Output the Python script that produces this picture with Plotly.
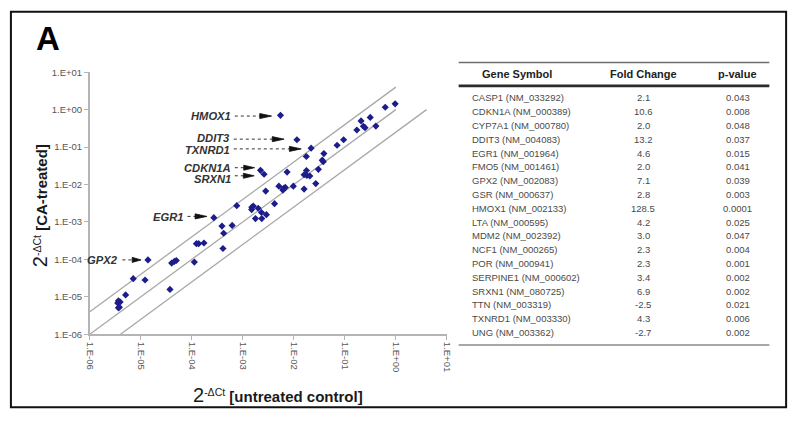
import math
import plotly.graph_objects as go

# ---------------- data ----------------
# labelled genes: 2^-dCt untreated control (x) vs CA-treated (y)
label_genes = ["HMOX1", "DDIT3", "TXNRD1", "CDKN1A", "SRXN1", "EGR1", "GPX2"]
label_control = [0.00547, 0.0115, 0.0218, 0.00222, 0.00261, 0.000270, 0.0000138]
label_treated = [0.703, 0.157, 0.0933, 0.0239, 0.0188, 0.00130, 0.0000966]

# remaining genes
other_control = [0.97, 0.62, 0.315, 0.208, 0.231, 0.249, 0.406, 0.172, 0.0946, 0.0705,
                 0.0388, 0.0361, 0.0378, 0.0176, 0.00738, 0.0177, 0.0159, 0.0180, 0.0206, 0.0303,
                 0.0269, 0.0159, 0.00977, 0.00509, 0.00631, 0.00681, 0.00610, 0.00419, 0.00281, 0.00232,
                 0.00290, 0.00177, 0.00235, 0.00150, 0.00160, 0.00149, 0.00200, 0.00076, 0.000390, 0.000618,
                 0.000421, 0.000408, 0.000123, 0.000136, 0.000173, 0.000112, 0.0000403, 0.0000454, 0.0000497,
                 0.0000373, 0.00000710, 0.0000121, 0.00000504, 0.00000364, 0.00000393, 0.00000352,
                 0.00000364, 0.00000380]
other_treated = [1.43, 1.16, 0.62, 0.50, 0.36, 0.33, 0.364, 0.286, 0.157, 0.112,
                 0.0671, 0.0447, 0.0408, 0.0561, 0.0215, 0.0236, 0.0182, 0.0174, 0.0169, 0.0254,
                 0.0106, 0.00753, 0.00901, 0.00901, 0.00785, 0.00834, 0.00710, 0.00307, 0.00668, 0.00179,
                 0.00156, 0.00123, 0.00123, 0.00246, 0.00267, 0.00214, 0.00232, 0.00272, 0.000773, 0.000807,
                 0.000499, 0.000195, 0.000263, 0.000263, 0.000274, 0.0000843, 0.0000794, 0.0000879, 0.0000933,
                 0.0000157, 0.0000304, 0.0000281, 0.0000112, 0.00000782, 0.00000723, 0.00000681,
                 0.00000505, 0.00000526]

# fold-change boundary lines (y = k * x)
line_factors = [4.0, 1.0, 0.25]
line_x_start = [1e-6, 1e-6, 4e-6]
line_x_end = [1.0, 1.0, 4.0]

tick_values = [1e-6, 1e-5, 1e-4, 1e-3, 1e-2, 1e-1, 1e0, 1e1]
tick_labels = ["1.E-06", "1.E-05", "1.E-04", "1.E-03", "1.E-02", "1.E-01", "1.E+00", "1.E+01"]

# table
table_genes = ["CASP1", "CDKN1A", "CYP7A1", "DDIT3", "EGR1", "FMO5", "GPX2", "GSR", "HMOX1",
               "LTA", "MDM2", "NCF1", "POR", "SERPINE1", "SRXN1", "TTN", "TXNRD1", "UNG"]
table_accessions = ["NM_033292", "NM_000389", "NM_000780", "NM_004083", "NM_001964", "NM_001461",
                    "NM_002083", "NM_000637", "NM_002133", "NM_000595", "NM_002392", "NM_000265",
                    "NM_000941", "NM_000602", "NM_080725", "NM_003319", "NM_003330", "NM_003362"]
table_fold = [2.1, 10.6, 2.0, 13.2, 4.6, 2.0, 7.1, 2.8, 128.5, 4.2, 3.0, 2.3, 2.3, 3.4, 6.9, -2.5, 4.3, -2.7]
table_p = [0.043, 0.008, 0.048, 0.037, 0.015, 0.041, 0.039, 0.003, 0.0001, 0.025, 0.047, 0.004,
           0.001, 0.002, 0.002, 0.021, 0.006, 0.002]
table_headers = ["Gene Symbol", "Fold Change", "p-value"]

# ---------------- layout geometry ----------------
W, H = 800, 421
X0PX, X1PX = 86, 448      # plot area left/right (px)
YBPX, YTPX = 337, 68      # plot area bottom/top (px)
LOGMIN, LOGMAX = -6, 1

def xpx(v):
    return X0PX + (math.log10(v) - LOGMIN) / (LOGMAX - LOGMIN) * (X1PX - X0PX)

def ypx(v):
    return YBPX - (math.log10(v) - LOGMIN) / (LOGMAX - LOGMIN) * (YBPX - YTPX)

def xval(px):
    return 10 ** (LOGMIN + (px - X0PX) / (X1PX - X0PX) * (LOGMAX - LOGMIN))

def yval(py):
    return 10 ** (LOGMIN + (YBPX - py) / (YBPX - YTPX) * (LOGMAX - LOGMIN))

def px2paper(px, py):
    return px / W, 1 - py / H

FONT = "Liberation Sans, Arial, sans-serif"
MARKER = "#1c1c8a"
LINEGRAY = "#a8a8a8"

fig = go.Figure()

# boundary lines
for k, xs, xe in zip(line_factors, line_x_start, line_x_end):
    fig.add_trace(go.Scatter(x=[xs, xe], y=[k * xs, k * xe], mode="lines",
                             line=dict(color=LINEGRAY, width=1.3), hoverinfo="skip", showlegend=False))

# points
fig.add_trace(go.Scatter(x=other_control + label_control, y=other_treated + label_treated,
                         mode="markers", marker=dict(symbol="diamond", size=5.5, color=MARKER),
                         showlegend=False))

# arrow / label styling (px): text right edge, gap to point, head length, arrow dy, text dy
label_style = {
    "HMOX1": (230, 9, 12, 0.7, 0.0),
    "DDIT3": (229, 13, 12, -0.6, -1.0),
    "TXNRD1": (229, 10, 12, 0.7, 0.8),
    "CDKN1A": (230, 6, 11, -2.7, 0.0),
    "SRXN1": (230, 10, 11, 1.6, 3.0),
    "EGR1": (182, 7, 12, -1.3, 0.5),
    "GPX2": (116, 7, 9, 0.0, 0.0),
}

shaft_x, shaft_y, head_x, head_y = [], [], [], []
annotations = []
for g, cx, ty in zip(label_genes, label_control, label_treated):
    tr, gap, hl, dya, dyt = label_style[g]
    px, py = xpx(cx), ypx(ty)
    ay = py + dya
    tip = px - gap
    base = tip - hl
    start = tr + 3
    shaft_x += [xval(start), xval(base), None]
    shaft_y += [yval(ay), yval(ay), None]
    head_x += [xval(tip), xval(base), xval(base), xval(tip), None]
    head_y += [yval(ay), yval(ay - 2.6), yval(ay + 2.6), yval(ay), None]
    xp, yp = px2paper(tr, ay + dyt)
    annotations.append(dict(x=xp, y=yp, xref="paper", yref="paper", xanchor="right", yanchor="middle",
                            text=f"<b><i>{g}</i></b>", showarrow=False, borderpad=0,
                            font=dict(family=FONT, size=11.2, color="#333333")))

fig.add_trace(go.Scatter(x=shaft_x, y=shaft_y, mode="lines",
                         line=dict(color="#333333", width=1, dash="dot"),
                         hoverinfo="skip", showlegend=False))
fig.add_trace(go.Scatter(x=head_x, y=head_y, mode="lines", fill="toself", fillcolor="#111111",
                         line=dict(color="#111111", width=0.8), hoverinfo="skip", showlegend=False))

# panel letter
xp, yp = px2paper(44, 33)
annotations.append(dict(x=xp, y=yp, xref="paper", yref="paper", xanchor="center", yanchor="middle",
                        text="<b>A</b>", showarrow=False, font=dict(family=FONT, size=33, color="black")))

# axis titles
xp, yp = px2paper(277, 399)
annotations.append(dict(x=xp, y=yp, xref="paper", yref="paper", xanchor="center", yanchor="middle",
                        text="<span style='font-size:20px'>2</span><sup>-ΔCt</sup> <b>[untreated control]</b>",
                        showarrow=False, font=dict(family=FONT, size=15, color="#1a1a1a")))
xp, yp = px2paper(35, 205)
annotations.append(dict(x=xp, y=yp, xref="paper", yref="paper", xanchor="center", yanchor="middle",
                        textangle=-90,
                        text="<span style='font-size:20px'>2</span><sup>-ΔCt</sup> <b>[CA-treated]</b>",
                        showarrow=False, font=dict(family=FONT, size=15, color="#1a1a1a")))

# ---------------- table ----------------
shapes = []
TL, TR = 460, 775
def hline(py, color, width):
    x0, y0 = px2paper(TL, py)
    x1, _ = px2paper(TR, py)
    shapes.append(dict(type="line", xref="paper", yref="paper", x0=x0, x1=x1, y0=y0, y1=y0,
                       line=dict(color=color, width=width)))

hline(58, "#6e6e6e", 1.5)
hline(82, "#2a2a2a", 2.6)
hline(348, "#8a8a8a", 1.5)

header_x = [519, 647, 743]
for hx, htxt in zip(header_x, table_headers):
    xp, yp = px2paper(hx, 70)
    annotations.append(dict(x=xp, y=yp, xref="paper", yref="paper", xanchor="center", yanchor="middle",
                            text=f"<b>{htxt}</b>", showarrow=False,
                            font=dict(family=FONT, size=11, color="#222222")))

ROW0, ROWSTEP = 94.3, 14.18
for i, (g, acc, fc, p) in enumerate(zip(table_genes, table_accessions, table_fold, table_p)):
    ry = ROW0 + i * ROWSTEP
    xp, yp = px2paper(471, ry)
    annotations.append(dict(x=xp, y=yp, xref="paper", yref="paper", xanchor="left", yanchor="middle",
                            text=f"{g} ({acc})", showarrow=False,
                            font=dict(family=FONT, size=9.5, color="#4a4a4a")))
    xp, yp = px2paper(647, ry)
    annotations.append(dict(x=xp, y=yp, xref="paper", yref="paper", xanchor="center", yanchor="middle",
                            text=f"{fc:.1f}", showarrow=False,
                            font=dict(family=FONT, size=9.5, color="#4a4a4a")))
    xp, yp = px2paper(743, ry)
    annotations.append(dict(x=xp, y=yp, xref="paper", yref="paper", xanchor="center", yanchor="middle",
                            text=str(p), showarrow=False,
                            font=dict(family=FONT, size=9.5, color="#4a4a4a")))

# outer frame
fx0, fy0 = px2paper(6, 6)
fx1, fy1 = px2paper(792, 412)
shapes.append(dict(type="rect", xref="paper", yref="paper", x0=fx0, x1=fx1, y0=fy1, y1=fy0,
                   line=dict(color="#111111", width=2)))

axis_common = dict(type="log", range=[LOGMIN, LOGMAX], showgrid=False, zeroline=False,
                   showline=True, linecolor="#b4b4b4", linewidth=1.5,
                   ticks="outside", ticklen=4, tickcolor="#b4b4b4", tickwidth=1,
                   tickvals=tick_values, ticktext=tick_labels,
                   tickfont=dict(family=FONT, size=9.5, color="#555555"))

fig.update_layout(
    width=W, height=H, autosize=False,
    margin=dict(l=0, r=0, t=0, b=0),
    paper_bgcolor="white", plot_bgcolor="white",
    xaxis=dict(domain=[X0PX / W, X1PX / W], tickangle=90, **axis_common),
    yaxis=dict(domain=[1 - YBPX / H, 1 - YTPX / H], **axis_common),
    annotations=annotations, shapes=shapes, showlegend=False,
)

fig.write_html("out.html",
               config={"displayModeBar": False},
               post_script="document.body.style.margin='0';document.body.style.padding='0';"
                           "document.body.style.overflow='hidden';")
